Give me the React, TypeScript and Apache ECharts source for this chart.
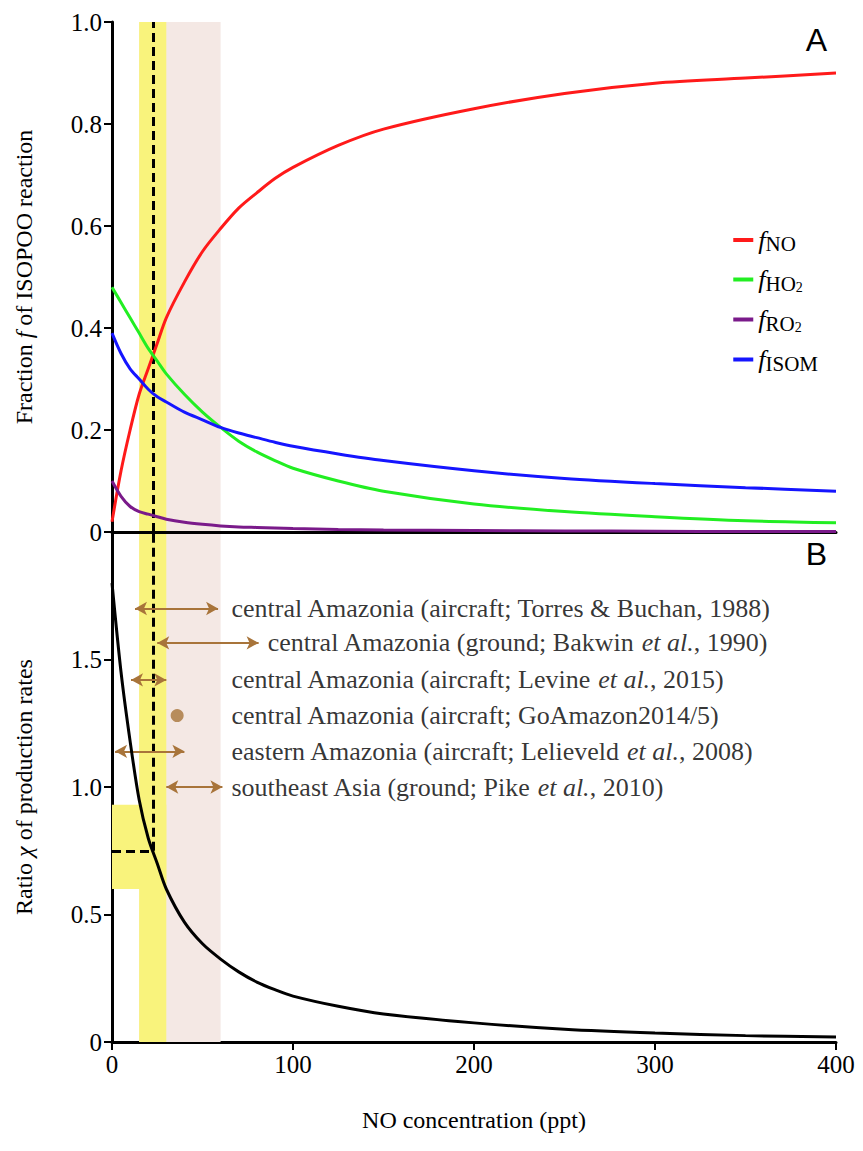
import { useRef, useEffect } from "react";
import * as echarts from "echarts";

const noX = [0, 5, 10, 15, 20, 25, 30, 40, 50, 60, 70, 80, 90, 100, 125, 150, 200, 250, 300, 350, 400];
const fNO = [0.02, 0.12, 0.2, 0.27, 0.32, 0.37, 0.42, 0.49, 0.55, 0.595, 0.635, 0.665, 0.693, 0.715, 0.758, 0.79, 0.83, 0.86, 0.88, 0.89, 0.9];
const fHO2 = [0.48, 0.45, 0.42, 0.39, 0.36, 0.335, 0.31, 0.27, 0.235, 0.205, 0.178, 0.157, 0.14, 0.125, 0.1, 0.08, 0.055, 0.04, 0.03, 0.022, 0.018];
const fRO2 = [0.1, 0.07, 0.05, 0.04, 0.035, 0.03, 0.025, 0.019, 0.015, 0.012, 0.01, 0.009, 0.008, 0.007, 0.005, 0.004, 0.003, 0.002, 0.0015, 0.001, 0.001];
const fISOM = [0.39, 0.35, 0.32, 0.3, 0.28, 0.265, 0.255, 0.235, 0.22, 0.205, 0.194, 0.185, 0.176, 0.168, 0.153, 0.14, 0.12, 0.105, 0.095, 0.087, 0.08];
const chi = [1.8, 1.45, 1.18, 0.95, 0.8, 0.7, 0.6, 0.47, 0.385, 0.325, 0.275, 0.235, 0.205, 0.18, 0.14, 0.11, 0.075, 0.05, 0.035, 0.025, 0.02];

const obsRows = [
  { y: 1.7, from: 12.7, to: 58.6, textX: 66, text: "central Amazonia (aircraft; Torres & Buchan, 1988)" },
  { y: 1.565, from: 25, to: 81, textX: 86, text: "central Amazonia (ground; Bakwin {i|et al.}, 1990)" },
  { y: 1.42, from: 10.5, to: 30, textX: 66, text: "central Amazonia (aircraft; Levine {i|et al.}, 2015)" },
  { y: 1.28, from: null, to: null, textX: 66, text: "central Amazonia (aircraft; GoAmazon2014/5)" },
  { y: 1.14, from: 1.7, to: 40, textX: 66, text: "eastern Amazonia (aircraft; Lelieveld {i|et al.}, 2008)" },
  { y: 1.0, from: 30, to: 61, textX: 66, text: "southeast Asia (ground; Pike {i|et al.}, 2010)" },
];
const goAmazonDot = [36, 1.28];
const dashX = 23;
const chiAtDash = 0.75;

const serif = "Liberation Serif, DejaVu Serif, serif";
const brown = "#a8743a";

const App = () => {
  const chartRef = useRef(null);

  useEffect(() => {
    document.body.style.margin = "0";
    if (!chartRef.current) return;
    const chart = echarts.init(chartRef.current, null, { renderer: "svg" });
    const pair = (ys: number[]) => noX.map((x, i) => [x, ys[i]]);
    const axisLine = { show: true, lineStyle: { color: "#000", width: 3 } };
    const axisTick = { show: true, length: 8, lineStyle: { color: "#000", width: 2 } };
    const axisLabel = { color: "#000", fontFamily: serif, fontSize: 25, margin: 10 };
    const italic = { fontFamily: serif, fontSize: 26, fontStyle: "italic", color: "#000" };
    const nameStyle = { fontFamily: serif, fontSize: 24, color: "#000", rich: { i: { ...italic, fontSize: 24 } } };
    const bands = (yMax: number, xi: number) => [
      {
        type: "line", xAxisIndex: xi, yAxisIndex: xi, data: [], z: 1,
        markArea: { silent: true, itemStyle: { color: "#f4e8e4" }, data: [[{ xAxis: 15, yAxis: 0 }, { xAxis: 60, yAxis: yMax }]] },
      },
      {
        type: "line", xAxisIndex: xi, yAxisIndex: xi, data: [], z: 2,
        markArea: { silent: true, itemStyle: { color: "#f9f37c" }, data: [[{ xAxis: 15, yAxis: 0 }, { xAxis: 30, yAxis: yMax }]] },
      },
    ];
    const lineS = (name: string, ys: number[], color: string) => ({
      name, type: "line", xAxisIndex: 0, yAxisIndex: 0, data: pair(ys), smooth: 0.3,
      showSymbol: false, lineStyle: { color, width: 3 }, itemStyle: { color }, z: 5,
    });
    const rich = {
      f: { fontStyle: "italic", fontFamily: serif, fontSize: 26, color: "#000" },
      s: { fontFamily: serif, fontSize: 21, color: "#000", padding: [8, 0, 0, 0] },
      ss: { fontFamily: serif, fontSize: 14, color: "#000", padding: [16, 0, 0, 0] },
    };
    const legendText: Record<string, string> = {
      NO: "{f|f}{s|NO}",
      HO2: "{f|f}{s|HO}{ss|2}",
      RO2: "{f|f}{s|RO}{ss|2}",
      ISOM: "{f|f}{s|ISOM}",
    };
    const arrowSeries = {
      type: "line", xAxisIndex: 1, yAxisIndex: 1, data: [], z: 6,
      markLine: {
        silent: true, symbol: ["arrow", "arrow"], symbolSize: [10, 12],
        lineStyle: { color: brown, width: 2, type: "solid" }, label: { show: false },
        data: obsRows.filter((r) => r.from !== null).map((r) => [
          { coord: [r.from, r.y] }, { coord: [r.to, r.y] },
        ]),
      },
    };
    const textSeries = {
      type: "scatter", xAxisIndex: 1, yAxisIndex: 1, symbolSize: 0, z: 7,
      data: obsRows.map((r) => [r.textX, r.y, r.text]),
      label: {
        show: true, position: "right", distance: 0, formatter: (p: any) => p.data[2],
        fontFamily: serif, fontSize: 26, color: "#000", rich: { i: italic },
      },
    };
    const option = {
      animation: false,
      textStyle: { fontFamily: serif },
      grid: [
        { left: 112, width: 724, top: 22, height: 510 },
        { left: 112, width: 724, top: 532, height: 510 },
      ],
      legend: {
        right: 40, top: 222, orient: "vertical", itemGap: 12, itemWidth: 20, itemHeight: 4,
        icon: "rect", data: ["NO", "HO2", "RO2", "ISOM"],
        formatter: (n: string) => legendText[n], textStyle: { fontFamily: serif, rich },
      },
      xAxis: [
        { type: "value", gridIndex: 0, min: 0, max: 400, interval: 100, axisLine, axisTick: { show: false }, axisLabel: { show: false }, splitLine: { show: false } },
        {
          type: "value", gridIndex: 1, min: 0, max: 400, interval: 100, axisLine, axisTick, axisLabel, splitLine: { show: false },
          name: "NO concentration (ppt)", nameLocation: "middle", nameGap: 66, nameTextStyle: nameStyle,
        },
      ],
      yAxis: [
        {
          type: "value", gridIndex: 0, min: 0, max: 1, interval: 0.2, axisLine, axisTick, splitLine: { show: false },
          axisLabel: { ...axisLabel, formatter: (v: number) => (v === 0 ? "0" : v.toFixed(1)) },
          name: "Fraction {i|f} of ISOPOO reaction", nameLocation: "middle", nameGap: 76, nameTextStyle: nameStyle,
        },
        {
          type: "value", gridIndex: 1, min: 0, max: 2, interval: 0.5, axisLine, axisTick, splitLine: { show: false },
          axisLabel: { ...axisLabel, formatter: (v: number) => (v === 0 ? "0" : v === 2 ? "" : v.toFixed(1)) },
          name: "Ratio {i|χ} of production rates", nameLocation: "middle", nameGap: 76, nameTextStyle: nameStyle,
        },
      ],
      graphic: [
        { type: "text", right: 36, top: 24, style: { text: "A", font: "32px Liberation Sans, Arial, sans-serif", fill: "#000" } },
        { type: "text", right: 36, top: 538, style: { text: "B", font: "32px Liberation Sans, Arial, sans-serif", fill: "#000" } },
      ],
      series: [
        ...bands(1, 0),
        ...bands(2, 1),
        {
          type: "line", xAxisIndex: 1, yAxisIndex: 1, data: [], z: 3,
          markArea: { silent: true, itemStyle: { color: "#f9f37c" }, data: [[{ xAxis: 0, yAxis: 0.6 }, { xAxis: 30, yAxis: 0.93 }]] },
        },
        lineS("NO", fNO, "#ff1a1a"),
        lineS("HO2", fHO2, "#22ee22"),
        lineS("RO2", fRO2, "#7a1a8a"),
        lineS("ISOM", fISOM, "#1515ff"),
        {
          type: "line", xAxisIndex: 0, yAxisIndex: 0, data: [], z: 6,
          markLine: { silent: true, symbol: "none", label: { show: false }, lineStyle: { color: "#000", width: 3, type: [9, 5] }, data: [{ xAxis: dashX }] },
        },
        {
          type: "line", xAxisIndex: 1, yAxisIndex: 1, data: [], z: 4,
          markLine: { silent: true, symbol: "none", label: { show: false }, lineStyle: { color: "#000", width: 3, type: "solid" }, data: [{ yAxis: 2 }] },
        },
        {
          type: "line", xAxisIndex: 1, yAxisIndex: 1, data: pair(chi), smooth: 0.3, showSymbol: false,
          lineStyle: { color: "#000", width: 3 }, z: 5,
          markLine: {
            silent: true, symbol: "none", label: { show: false }, lineStyle: { color: "#000", width: 3, type: [9, 5] },
            data: [
              [{ coord: [dashX, chiAtDash] }, { coord: [dashX, 2] }],
              [{ coord: [0, chiAtDash] }, { coord: [dashX, chiAtDash] }],
            ],
          },
        },
        arrowSeries,
        {
          type: "scatter", xAxisIndex: 1, yAxisIndex: 1, data: [goAmazonDot], symbolSize: 13,
          itemStyle: { color: brown }, z: 7,
        },
        textSeries,
      ],
    };
    chart.setOption(option);
    return () => chart.dispose();
  }, []);

  return <div ref={chartRef} style={{ width: 863, height: 1151, background: "#fff" }} />;
};

export default App;
